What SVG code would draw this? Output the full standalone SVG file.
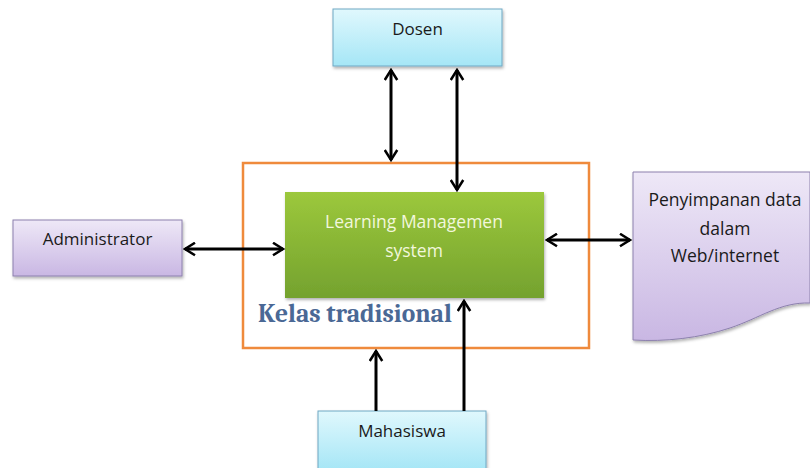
<svg xmlns="http://www.w3.org/2000/svg" width="810" height="468" viewBox="0 0 810 468">
<style>
text{font-family:"Open Sans","Noto Sans","Liberation Sans",sans-serif;}
.lbl{font-size:17px;fill:#1a1a1a;text-anchor:middle;}
.cyan{fill:url(#gc);stroke:#6fa8c4;stroke-width:1;}
.purp{fill:url(#gp);stroke:#8c80ad;stroke-width:1;}
.conn{stroke:#000;stroke-width:3;fill:none;marker-start:url(#ah);marker-end:url(#ah);}
.one{stroke:#000;stroke-width:3;fill:none;marker-end:url(#ah);}
</style>
<defs>
<linearGradient id="gc" x1="0" y1="0" x2="0" y2="1"><stop offset="0" stop-color="#e0f8fd"/><stop offset="1" stop-color="#a5e6f6"/></linearGradient>
<linearGradient id="gp" x1="0" y1="0" x2="0" y2="1"><stop offset="0" stop-color="#eee8f7"/><stop offset="1" stop-color="#c9b7e3"/></linearGradient>
<linearGradient id="gg" x1="0" y1="0" x2="0" y2="1"><stop offset="0" stop-color="#9cc83c"/><stop offset="1" stop-color="#74a22e"/></linearGradient>
<filter id="sh" x="-10%" y="-10%" width="130%" height="130%"><feDropShadow dx="1" dy="2" stdDeviation="1.5" flood-color="#000" flood-opacity="0.3"/></filter>
<marker id="ah" viewBox="0 0 12 12" refX="10" refY="6" markerWidth="5" markerHeight="5" orient="auto-start-reverse" markerUnits="strokeWidth"><polyline points="2,1 10,6 2,11" fill="none" stroke="#000" stroke-width="2" stroke-linejoin="miter"/></marker>
</defs>
<rect width="810" height="468" fill="#fff"/>
<g id="kelas">
<rect x="243" y="163" width="346" height="185" fill="none" stroke="#ef8a3c" stroke-width="2.5"/>
<text x="258" y="322" style="font-family:'Cambria','Liberation Serif','DejaVu Serif',serif;font-size:25.5px;font-weight:bold;fill:#4a6895;">Kelas tradisional</text>
</g>
<g id="dosen">
<rect class="cyan" x="333" y="9" width="169" height="57" filter="url(#sh)"/>
<text class="lbl" x="417.5" y="35">Dosen</text>
</g>
<g id="administrator">
<rect class="purp" x="13" y="220" width="169" height="56" filter="url(#sh)"/>
<text class="lbl" x="97.5" y="245">Administrator</text>
</g>
<g id="lms">
<rect x="285" y="192" width="259" height="106" fill="url(#gg)" filter="url(#sh)"/>
<text x="414" y="228" style="font-size:17.5px;fill:#f2f7dc;text-anchor:middle;">Learning Managemen</text>
<text x="414" y="257" style="font-size:17.5px;fill:#f2f7dc;text-anchor:middle;">system</text>
</g>
<g id="penyimpanan">
<path class="purp" d="M633 172 H810 V303 C780 302 760 318 730 328 C700 338 665 342 633 340 Z" filter="url(#sh)"/>
<text class="lbl" x="725" y="206" style="font-size:17.5px">Penyimpanan data</text>
<text class="lbl" x="725" y="235" style="font-size:17.5px">dalam</text>
<text class="lbl" x="725" y="262" style="font-size:17.5px">Web/internet</text>
</g>
<g id="mahasiswa">
<rect class="cyan" x="318" y="411" width="168" height="60" filter="url(#sh)"/>
<text class="lbl" x="402" y="437">Mahasiswa</text>
</g>
<g id="connectors">
<line class="conn" x1="391" y1="70" x2="391" y2="160"/>
<line class="conn" x1="457" y1="70" x2="457" y2="190"/>
<line class="conn" x1="185" y1="249" x2="283" y2="249"/>
<line class="conn" x1="547" y1="240" x2="630" y2="240"/>
<line class="one" x1="376" y1="411" x2="376" y2="351"/>
<line class="one" x1="464" y1="411" x2="464" y2="301"/>
</g>
</svg>
